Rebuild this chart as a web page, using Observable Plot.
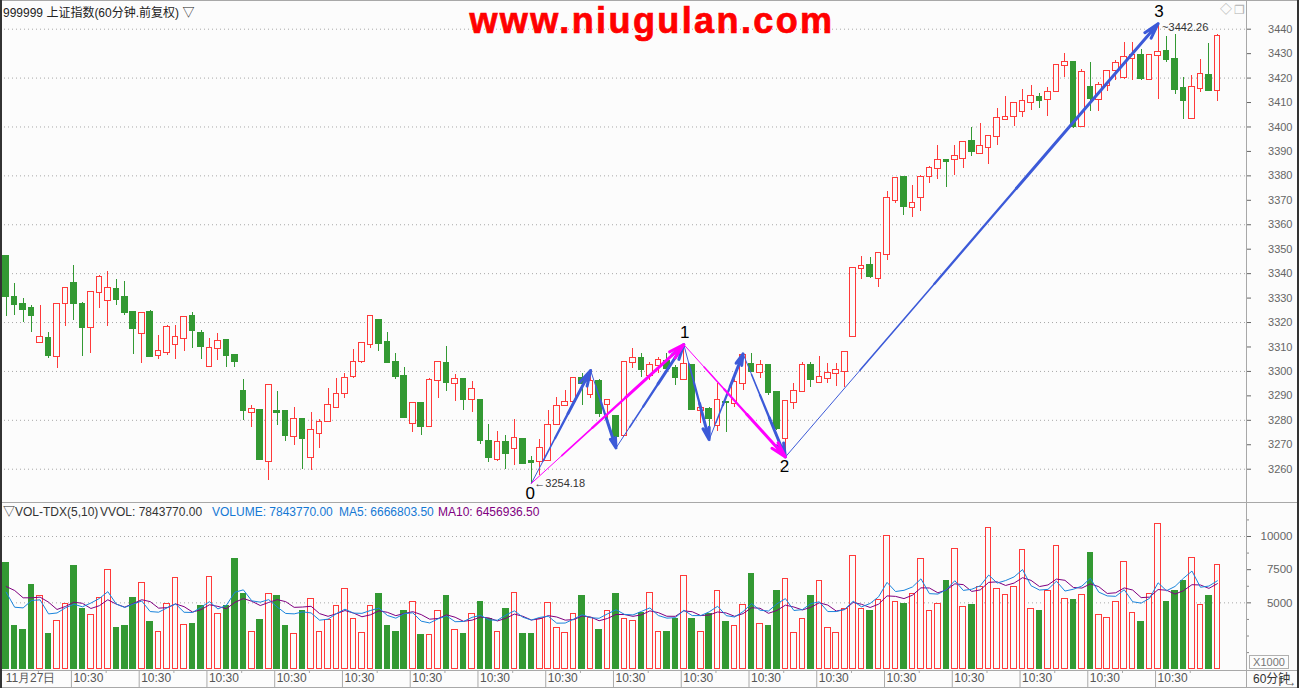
<!DOCTYPE html>
<html><head><meta charset="utf-8">
<script src="https://cdn.jsdelivr.net/npm/d3@7"></script>
<script src="https://cdn.jsdelivr.net/npm/@observablehq/plot@0.6"></script>
<style>
html,body{margin:0;padding:0;background:#fcfcfc;}
#wrap{position:relative;width:1299px;height:688px;overflow:hidden;background:#fcfcfc;font-family:"Liberation Sans",Arial,"Noto Sans CJK SC",sans-serif;}
.abs{position:absolute;white-space:nowrap;}
.ln{position:absolute;background:#a8a8a8;}
</style></head><body>
<div id="wrap">
  <div id="price" class="abs" style="left:0;top:0"></div>
  <div id="vol" class="abs" style="left:0;top:502px"></div>
  <div class="ln" style="left:0;top:0;width:1299px;height:1px"></div>
  <div class="ln" style="left:0;top:502px;width:1299px;height:1px"></div>
  <div class="ln" style="left:0;top:670px;width:1299px;height:1px"></div>
  <div class="ln" style="left:0;top:687px;width:1299px;height:1px"></div>
  <div class="ln" style="left:1246px;top:0;width:1px;height:688px"></div>
  <div class="ln" style="left:0;top:0;width:2px;height:688px;background:#333"></div>
  <div class="ln" style="left:1297px;top:0;width:2px;height:688px;background:#333"></div>
  <div class="abs" style="left:3px;top:6px;font-size:12px;line-height:14px;color:#222;font-family:'Liberation Sans','Noto Sans CJK SC',sans-serif">999999 上证指数(60分钟.前复权) ▽</div>
  <div class="abs" style="left:652px;top:0px;transform:translateX(-50%);font-size:36px;line-height:normal;font-weight:bold;color:#ff0000;letter-spacing:2.4px;-webkit-text-stroke:0.7px #ff0000;font-family:'Liberation Sans',Arial,sans-serif">www.niugulan.com</div>
  <div class="abs" style="left:1220px;top:3px;font-size:12px;line-height:14px;color:#b0b0b0">◇</div>
  <div class="abs" style="left:1234px;top:3px;font-size:12px;line-height:14px;color:#b0b0b0">❐</div>
  <div class="abs" style="left:3px;top:505px;font-size:12px;line-height:14px;color:#333">▽VOL-TDX(5,10)</div>
  <div class="abs" style="left:100px;top:505px;font-size:12px;line-height:14px;color:#333">VVOL: 7843770.00</div>
  <div class="abs" style="left:212px;top:505px;font-size:12px;line-height:14px;color:#1478d4">VOLUME: 7843770.00</div>
  <div class="abs" style="left:339px;top:505px;font-size:12px;line-height:14px;color:#1478d4">MA5: 6666803.50</div>
  <div class="abs" style="left:438px;top:505px;font-size:12px;line-height:14px;color:#800080">MA10: 6456936.50</div>
  <div class="abs" style="left:1249px;top:655px;width:38px;height:12px;border:1px solid #b0b0b0;font-size:11px;line-height:12px;color:#777;text-align:center">X1000</div>
  <div class="abs" style="left:1253px;top:673px;font-size:12px;line-height:13px;color:#333;font-family:'Liberation Sans','Noto Sans CJK SC',sans-serif">60分钟</div>
</div>
<script>
// ---------- data ----------
const open = [3347.0,3330.2,3327.4,3325.7,3311.7,3313.4,3306.0,3327.6,3335.9,3327.4,
3317.8,3332.1,3328.9,3333.4,3330.2,3324.1,3315.4,3324.1,3306.4,3307.6,
3310.9,3313.3,3322.5,3315.5,3301.9,3309.5,3312.6,3306.5,3291.8,3283.1,
3284.0,3263.3,3283.6,3283.6,3273.2,3280.3,3264.7,3274.5,3279.4,3285.1,
3290.8,3297.8,3304.2,3310.9,3320.8,3311.8,3303.6,3297.9,3278.6,3286.7,
3277.3,3296.3,3303.1,3294.9,3296.7,3288.4,3288.1,3271.3,3264.1,3270.9,
3268.3,3272.1,3263.2,3263.0,3263.5,3278.1,3285.9,3287.7,3297.0,3290.4,
3295.9,3286.6,3281.5,3273.8,3303.8,3305.1,3298.2,3302.3,3304.2,3301.0,
3296.5,3302.4,3283.9,3284.4,3277.9,3287.4,3286.7,3294.9,3302.8,3299.4,
3302.4,3291.5,3272.4,3287.4,3291.9,3302.4,3295.4,3297.2,3299.0,3300.1,
3314.2,3342.3,3343.4,3338.2,3347.7,3369.8,3379.4,3367.2,3371.0,3379.6,
3382.9,3386.3,3386.5,3387.3,3394.1,3389.0,3391.5,3396.0,3403.2,3404.2,
3406.2,3409.9,3412.1,3411.3,3414.5,3425.1,3426.5,3400.3,3416.0,3411.3,
3416.8,3423.1,3420.2,3428.1,3429.2,3419.3,3429.1,3430.7,3427.4,3415.6,
3403.3,3415.6,3420.9,3414.8];
const high = [3347.4,3336.1,3329.7,3327.0,3327.0,3315.9,3327.8,3333.8,3343.3,3328.2,
3332.1,3339.2,3340.9,3337.6,3336.8,3324.1,3323.5,3324.8,3314.7,3318.6,
3318.6,3322.5,3324.1,3316.7,3313.5,3315.5,3312.6,3306.5,3296.7,3286.1,
3284.0,3294.1,3291.8,3283.6,3285.2,3280.3,3283.2,3280.5,3293.0,3297.1,
3299.3,3308.8,3311.3,3322.9,3320.8,3315.9,3307.3,3301.6,3286.7,3286.7,
3297.0,3304.0,3310.3,3298.6,3296.7,3295.8,3288.1,3278.3,3275.4,3273.6,
3280.3,3272.1,3265.2,3272.1,3284.0,3289.4,3292.2,3297.0,3299.0,3300.4,
3296.5,3288.0,3281.5,3303.5,3309.2,3307.2,3303.5,3305.5,3307.2,3302.4,
3311.0,3302.4,3285.0,3285.1,3295.2,3287.4,3296.5,3307.2,3307.2,3304.4,
3302.4,3291.5,3287.7,3294.9,3303.8,3303.8,3306.2,3303.4,3303.4,3307.9,
3342.0,3347.1,3346.6,3348.7,3373.6,3378.8,3379.6,3376.0,3380.0,3383.9,
3392.5,3386.7,3392.5,3393.7,3399.8,3401.4,3396.5,3407.4,3412.5,3409.5,
3415.2,3417.0,3413.6,3416.0,3425.0,3430.2,3426.8,3423.6,3426.5,3418.2,
3423.1,3427.2,3434.5,3434.7,3431.5,3429.1,3442.26,3437.0,3437.7,3420.3,
3421.0,3427.4,3434.0,3437.7];
const low = [3322.5,3322.9,3320.0,3316.0,3311.7,3305.4,3301.3,3318.5,3320.8,3306.2,
3307.5,3325.9,3318.5,3327.1,3323.0,3307.0,3303.4,3305.8,3304.7,3306.6,
3304.7,3308.3,3309.5,3305.0,3301.9,3304.6,3301.7,3301.7,3279.9,3277.2,
3263.6,3255.4,3278.0,3271.5,3269.7,3260.0,3259.5,3268.6,3279.4,3285.1,
3289.1,3297.2,3303.1,3309.5,3308.3,3303.4,3296.7,3280.7,3275.1,3273.9,
3277.3,3289.0,3291.8,3287.7,3284.0,3283.2,3270.1,3262.9,3263.3,3260.0,
3261.6,3262.2,3254.18,3257.3,3263.5,3278.1,3285.9,3286.7,3285.9,3289.0,
3281.3,3279.9,3268.7,3273.8,3301.0,3297.6,3296.3,3299.0,3299.0,3294.2,
3296.5,3284.0,3278.5,3272.1,3275.5,3275.1,3285.3,3292.2,3299.9,3297.3,
3290.1,3275.8,3265.0,3284.4,3291.9,3293.5,3294.9,3294.9,3293.8,3293.5,
3314.2,3337.8,3338.2,3334.5,3345.4,3368.5,3363.8,3363.1,3365.6,3377.0,
3378.7,3375.4,3380.2,3383.2,3388.1,3388.6,3384.8,3392.5,3403.2,3400.0,
3404.0,3406.9,3407.7,3404.2,3414.5,3420.3,3399.2,3400.3,3406.3,3406.3,
3414.5,3419.0,3419.3,3419.0,3419.0,3419.3,3411.1,3426.5,3413.1,3402.9,
3402.9,3414.2,3414.9,3410.4];
const close = [3330.8,3327.5,3325.5,3323.0,3313.7,3306.6,3327.2,3333.8,3327.9,3318.1,
3332.1,3338.3,3333.8,3329.6,3324.2,3317.7,3323.5,3306.2,3308.0,3317.8,
3313.7,3321.9,3316.9,3310.3,3309.2,3312.1,3306.6,3304.2,3284.1,3284.3,
3264.0,3294.1,3283.3,3273.8,3280.2,3272.7,3275.7,3279.0,3285.9,3290.4,
3297.0,3303.5,3311.3,3322.5,3311.5,3303.8,3298.1,3281.1,3286.7,3277.6,
3296.2,3303.5,3295.6,3296.5,3288.5,3292.7,3271.7,3264.9,3270.8,3266.5,
3272.5,3262.2,3262.9,3268.4,3277.7,3285.5,3287.1,3297.0,3294.9,3295.9,
3282.6,3288.0,3273.4,3303.5,3305.1,3300.6,3302.3,3304.3,3301.3,3297.6,
3302.7,3284.3,3284.8,3280.9,3288.1,3287.3,3295.6,3306.5,3300.0,3302.3,
3291.5,3276.5,3287.7,3291.9,3302.4,3296.9,3297.4,3299.0,3300.5,3307.6,
3342.0,3342.8,3338.9,3348.3,3370.6,3378.8,3367.6,3368.9,3379.2,3382.9,
3386.3,3386.0,3387.8,3393.7,3390.1,3391.9,3396.0,3403.4,3403.8,3409.5,
3410.3,3412.4,3411.0,3414.2,3425.0,3426.2,3400.2,3422.3,3411.8,3416.8,
3422.5,3425.8,3428.3,3429.1,3420.0,3429.1,3430.6,3427.6,3415.2,3410.8,
3416.3,3421.3,3414.9,3437.0];
// volume in thousands (axis shows X1000)
const volume = [7.99,3.29,2.99,6.38,5.48,2.69,3.65,4.93,7.74,4.50,
4.10,5.38,7.49,3.07,3.22,5.40,6.51,3.52,2.82,4.88,
6.89,3.34,3.44,4.80,6.96,4.17,4.73,8.34,5.70,2.82,
3.67,5.68,5.55,3.29,2.66,4.42,5.28,2.82,3.67,4.78,
6.06,3.80,2.74,4.73,5.70,3.29,2.77,4.42,5.08,2.54,
2.61,4.35,5.48,2.92,2.62,4.17,5.10,3.75,2.82,4.57,
5.75,2.69,2.69,3.82,5.00,3.14,2.74,4.17,5.48,3.87,
2.92,4.42,5.70,3.75,3.65,4.25,5.75,2.82,2.77,3.82,
7.04,3.75,2.82,4.17,5.93,3.52,3.22,4.85,7.21,3.42,
3.22,5.93,6.81,2.74,3.75,5.48,6.61,3.14,2.74,4.57,
8.54,4.50,4.42,5.25,10.00,5.10,4.95,5.68,8.32,4.42,
4.93,6.61,9.07,4.65,4.87,6.23,10.65,6.06,5.60,6.23,
9.00,4.57,4.42,5.86,9.30,5.30,5.25,5.60,8.79,4.10,
3.87,5.10,8.09,4.25,3.59,5.68,10.95,5.10,5.86,6.68,
8.39,4.85,5.55,7.843770];
// moving-average values visible before a full window exists
const ma5Head = [5.80, 4.67, 4.62, 5.18];
const ma10Head = [6.23, 5.93, 5.38, 5.38, 5.43, 5.05, 4.50, 4.73, 5.05];
// wave annotations: [fromBar, fromPrice, toBar, toPrice]
const blueArrows = [[62,3254.18,69,3300.4],[69,3300.4,72,3268.7],[72,3268.7,80,3311.0],
  [80,3311.0,83,3272.1],[83,3272.1,87,3307.2],[87,3307.2,92,3265.0],[92,3265.0,136,3442.26]];
const magentaArrows = [[62,3254.18,80,3311.0],[80,3311.0,92,3265.0]];
const pivotLabels = ["0","1","2","3"];
const pivotBars = [62, 80, 92, 136];
const pivotPrices = [3254.18, 3311.0, 3265.0, 3442.26];
const pivotIsLow = [true, false, true, false];
const priceTicks = d3.range(3260, 3441, 10);
const priceGrid = d3.range(3260, 3441, 20);
const volTicks = [5, 7.5, 10];
const volMinorTicks = [1.25, 2.5, 3.75, 6.25, 8.75, 11.25];
const volGrid = [5, 10];
const xTickBars = d3.range(0, 144, 8);
const xTickLabels = ["11月27日","10:30","10:30","10:30","10:30","10:30","10:30","10:30","10:30",
  "10:30","10:30","10:30","10:30","10:30","10:30","10:30","10:30","10:30"];

// ---------- build ----------
const RED = "#ff3a3a", GREEN = "#339933", BG = "#fcfcfc", BLUE = "#3c5ad8", MAG = "#ff00ff";
const N = open.length;
const idx = d3.range(N);
const candles = idx.map(i => ({i, o: open[i], h: high[i], l: low[i], c: close[i], up: close[i] >= open[i], v: volume[i]}));
const ups = candles.filter(d => d.up), downs = candles.filter(d => !d.up);
const xDomain = [-0.673, 146.32];
const hw = 0.33;
const fmtInt = d3.format("d");

function tapered(list) {
  const fr = [0, 0.2, 0.4, 0.62];
  const ws = [1, 1.6, 2.3];
  const segs = [], heads = [];
  for (const [a, p, b, q] of list) {
    for (let k = 0; k < 3; k++) {
      segs.push({x1: a + (b - a) * fr[k], y1: p + (q - p) * fr[k], x2: a + (b - a) * fr[k + 1], y2: p + (q - p) * fr[k + 1], w: ws[k]});
    }
    heads.push({x1: a + (b - a) * fr[3], y1: p + (q - p) * fr[3], x2: b, y2: q});
  }
  return {segs, heads};
}
function arrowMarks(list, color) {
  const {segs, heads} = tapered(list);
  return [
    Plot.link(segs, {x1: "x1", y1: "y1", x2: "x2", y2: "y2", stroke: color, strokeWidth: "w", strokeLinecap: "round"}),
    Plot.arrow(heads, {x1: "x1", y1: "y1", x2: "x2", y2: "y2", stroke: color, strokeWidth: 3, headLength: 8, headAngle: 30})
  ];
}
const pivots = pivotLabels.map((t, k) => ({t, i: pivotBars[k], p: pivotPrices[k], low: pivotIsLow[k]}));

const price = Plot.plot({
  width: 1299, height: 502, marginLeft: 0, marginRight: 54, marginTop: 0, marginBottom: 0,
  style: {background: "transparent", fontFamily: "Liberation Sans, Arial, sans-serif", fontSize: "11px"},
  x: {domain: xDomain, axis: null},
  y: {domain: [3246.38, 3451.74]},
  marks: [
    Plot.ruleY(priceGrid, {stroke: "#a8a8a8", strokeDasharray: "1,3"}),
    Plot.axisY(priceTicks, {anchor: "right", tickSize: 5, tickPadding: 42, textAnchor: "end", color: "#666", fontSize: 11, tickFormat: fmtInt}),
    Plot.ruleX(ups, {x: "i", y1: "l", y2: "h", stroke: RED, strokeWidth: 1, shapeRendering: "crispEdges"}),
    Plot.ruleX(downs, {x: "i", y1: "l", y2: "h", stroke: GREEN, strokeWidth: 1, shapeRendering: "crispEdges"}),
    Plot.rect(ups, {x1: d => d.i - hw, x2: d => d.i + hw, y1: "o", y2: "c", fill: BG, stroke: RED, strokeWidth: 1, insetTop: -0.5, insetBottom: -0.5, shapeRendering: "crispEdges"}),
    Plot.rect(downs, {x1: d => d.i - hw, x2: d => d.i + hw, y1: "o", y2: "c", fill: GREEN, stroke: GREEN, strokeWidth: 1, insetTop: -0.5, insetBottom: -0.5, shapeRendering: "crispEdges"}),
    ...arrowMarks(blueArrows, BLUE),
    ...arrowMarks(magentaArrows, MAG),
    Plot.text(pivots.filter(d => d.low), {x: "i", y: "p", text: "t", dy: 10, dx: -1, fontSize: 17, fill: "#000"}),
    Plot.text(pivots.filter(d => !d.low), {x: "i", y: "p", text: "t", dy: -12, dx: 1, fontSize: 17, fill: "#000"}),
    Plot.text(pivots.filter(d => d.t === "0"), {x: "i", y: "p", text: d => "←" + d.p.toFixed(2), textAnchor: "start", dx: 3, dy: 0, fontSize: 11, fill: "#333"}),
    Plot.text(pivots.filter(d => d.t === "3"), {x: "i", y: "p", text: d => "~" + d.p.toFixed(2), textAnchor: "start", dx: 4, dy: 4, fontSize: 11, fill: "#333"})
  ]
});
document.getElementById("price").append(price);

const rolling = (n, head) => idx.map(i => i < n - 1 ? head[i] : d3.mean(volume.slice(i - n + 1, i + 1)));
const ma5 = rolling(5, ma5Head), ma10 = rolling(10, ma10Head);
const maData = idx.map(i => ({i, m5: ma5[i], m10: ma10[i]}));
const labelMap = new Map(xTickBars.map((b, k) => [b - 0.3, xTickLabels[k]]));
const sepTicks = xTickBars.slice(1).map(b => b - 0.3);
const minorTicks = xTickBars.map(b => b + 3.8);

const vol = Plot.plot({
  width: 1299, height: 186, marginLeft: 0, marginRight: 54, marginTop: 0, marginBottom: 18,
  style: {background: "transparent", fontFamily: "Liberation Sans, Arial, sans-serif", fontSize: "12px"},
  x: {domain: xDomain},
  y: {domain: [-0.098, 12.562]},
  marks: [
    Plot.ruleY(volGrid, {stroke: "#a8a8a8", strokeDasharray: "1,3"}),
    Plot.axisY(volTicks, {anchor: "right", tickSize: 5, tickPadding: 42, textAnchor: "end", color: "#666", fontSize: 11.5, tickFormat: d => fmtInt(d * 1000)}),
    Plot.axisY(volMinorTicks, {anchor: "right", tickSize: 3, stroke: "#888", fill: "none"}),
    Plot.rect(ups, {x1: d => d.i - hw, x2: d => d.i + hw, y1: 0, y2: "v", fill: BG, stroke: RED, strokeWidth: 1, shapeRendering: "crispEdges"}),
    Plot.rect(downs, {x1: d => d.i - hw, x2: d => d.i + hw, y1: 0, y2: "v", fill: GREEN, stroke: GREEN, strokeWidth: 1, shapeRendering: "crispEdges"}),
    Plot.line(maData, {x: "i", y: "m10", stroke: "#800080", strokeWidth: 1}),
    Plot.line(maData, {x: "i", y: "m5", stroke: "#1a84dc", strokeWidth: 1}),
    Plot.axisX([...labelMap.keys()], {anchor: "bottom", tickSize: 0, tickPadding: 3, textAnchor: "start", dx: 2, color: "#555", fontSize: 12, tickFormat: d => labelMap.get(d)}),
    Plot.axisX(sepTicks, {anchor: "bottom", tickSize: 17, stroke: "#aaa", fill: "none"}),
    Plot.axisX(minorTicks, {anchor: "bottom", tickSize: 3, stroke: "#aaa", fill: "none"})
  ]
});
document.getElementById("vol").append(vol);
</script>
</body></html>
